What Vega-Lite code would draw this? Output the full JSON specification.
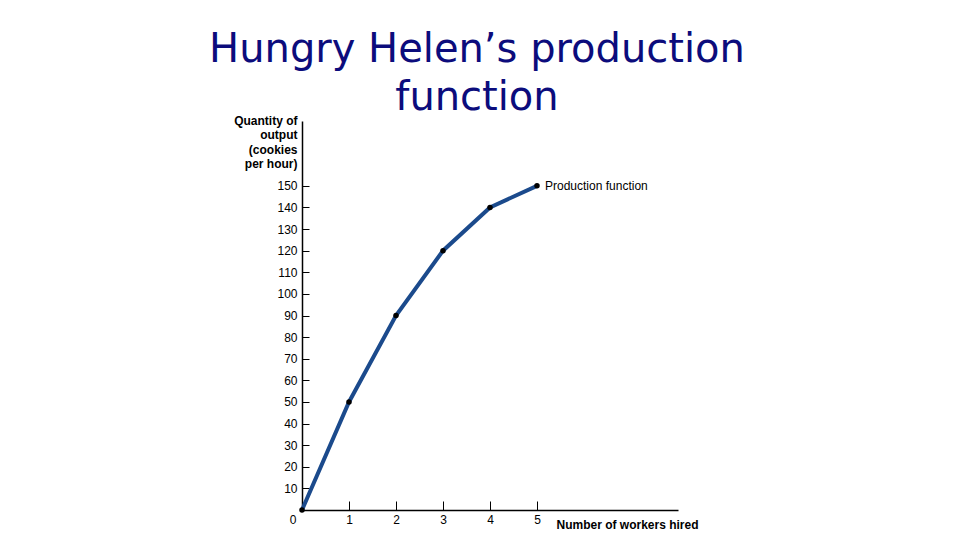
{
  "$schema": "https://vega.github.io/schema/vega-lite/v6.json",
  "autosize": "none",
  "width": 376,
  "height": 389,
  "padding": {"left": 302, "top": 121, "right": 282, "bottom": 30},
  "background": "white",
  "config": {"view": {"stroke": null}, "font": "Liberation Sans"},
  "title": {
    "text": ["Hungry Helen’s production", "function"],
    "font": "DejaVu Sans",
    "fontSize": 40,
    "fontWeight": "normal",
    "color": "#0c0c7c",
    "anchor": "middle",
    "dx": -13,
    "dy": 12,
    "offset": 8,
    "lineHeight": 48
  },
  "data": {
    "values": [
      {"workers": 0, "output": 0},
      {"workers": 1, "output": 50},
      {"workers": 2, "output": 90},
      {"workers": 3, "output": 120},
      {"workers": 4, "output": 140},
      {"workers": 5, "output": 150}
    ]
  },
  "encoding": {
    "x": {
      "field": "workers",
      "type": "quantitative",
      "scale": {"domain": [0, 8], "nice": false},
      "axis": {
        "title": "Number of workers hired",
        "values": [0, 1, 2, 3, 4, 5],
        "grid": false,
        "domainColor": "black",
        "domainWidth": 1.5,
        "tickColor": "black",
        "tickSize": -9,
        "labelPadding": 13,
        "labelFontSize": 12,
        "labelColor": "black",
        "labelAlign": {"expr": "datum.value == 0 ? 'right' : 'center'"},
        "labelOffset": {"expr": "datum.value == 0 ? -6 : 0"},
        "labelFlush": false,
        "labelBound": false,
        "titleFontSize": 12,
        "titleFontWeight": "bold",
        "titleColor": "black",
        "titleX": 254,
        "titleY": 14,
        "titleAlign": "left",
        "titleBaseline": "middle"
      }
    },
    "y": {
      "field": "output",
      "type": "quantitative",
      "scale": {"domain": [0, 180], "nice": false},
      "axis": {
        "title": ["Quantity of", "output", "(cookies", "per hour)"],
        "values": [10, 20, 30, 40, 50, 60, 70, 80, 90, 100, 110, 120, 130, 140, 150],
        "grid": false,
        "domainColor": "black",
        "domainWidth": 1.5,
        "tickColor": "black",
        "tickSize": -7,
        "labelPadding": 12,
        "labelFontSize": 12,
        "labelColor": "black",
        "labelFlush": false,
        "titleFontSize": 12,
        "titleFontWeight": "bold",
        "titleColor": "black",
        "titleAngle": 0,
        "titleAlign": "right",
        "titleBaseline": "top",
        "titleX": -5,
        "titleY": -6,
        "titleLineHeight": 14.5
      }
    }
  },
  "layer": [
    {
      "mark": {"type": "line", "color": "#1b4a8c", "strokeWidth": 4}
    },
    {
      "mark": {"type": "point", "filled": true, "color": "black", "size": 30, "opacity": 1}
    },
    {
      "transform": [{"filter": "datum.workers == 5"}],
      "mark": {"type": "text", "align": "left", "dx": 8, "fontSize": 12, "color": "black"},
      "encoding": {"text": {"value": "Production function"}}
    }
  ]
}
